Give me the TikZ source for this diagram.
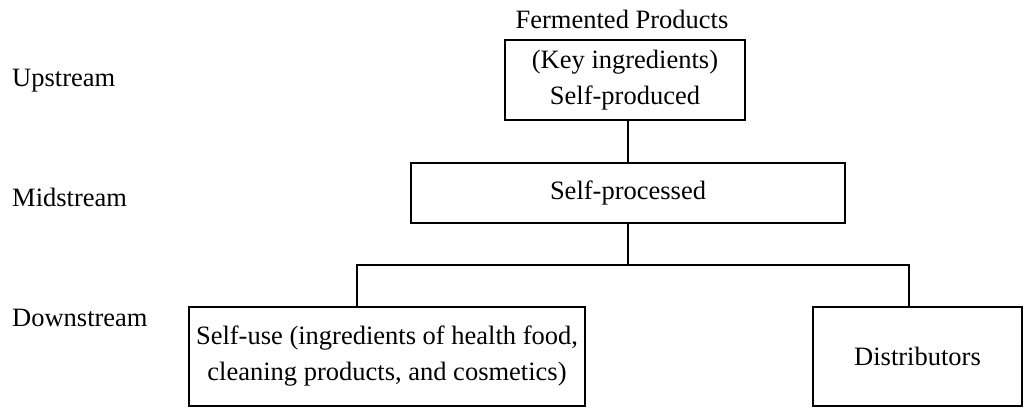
\documentclass[tikz,border=0pt]{standalone}
\usepackage{fontspec}
\setmainfont{Liberation Serif}
\begin{document}
\begin{tikzpicture}[x=1pt,y=-1pt,
  every node/.style={font=\fontsize{26.5}{36}\selectfont, inner sep=0pt},
  box/.style={draw, line width=2pt, align=center},
  link/.style={line width=2pt},
  stage/.style={anchor=base west}]
\useasboundingbox (0,0) rectangle (1024,407);

% stage labels
\node[stage] (lup)   at (12,86)  {Upstream};
\node[stage] (lmid)  at (12,206) {Midstream};
\node[stage] (ldown) at (12,326) {Downstream};

% chain boxes
\node[anchor=base] (title) at (622,28) {Fermented Products};
\node[box, minimum width=240, minimum height=80] (up) at (625,80)
  {(Key ingredients)\\Self-produced};
\node[box, minimum width=434, minimum height=60] (mid) at (628,193)
  {Self-processed};
\node[box, minimum width=396, minimum height=99] (use) at (387,356.5)
  {Self-use (ingredients of health food,\\cleaning products, and cosmetics)};
\node[box, minimum width=209, minimum height=99] (dist) at (917.5,356.5)
  {Distributors};

% connectors
\coordinate (busL) at (357,265);
\coordinate (busR) at (909,265);
\draw[link] (mid.north |- up.south) -- (mid.north);
\draw[link] (mid.south) -- (mid.south |- busL);
\draw[link] (use.north -| busL) -- (busL) -- (busR) -- (dist.north -| busR);
\end{tikzpicture}
\end{document}
